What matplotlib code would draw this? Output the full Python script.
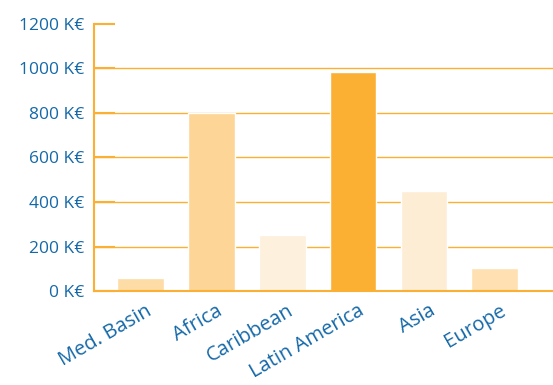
import matplotlib
matplotlib.use("Agg")
import matplotlib.pyplot as plt
import matplotlib.transforms as mtransforms

# data
regions = ["Med. Basin", "Africa", "Caribbean", "Latin America", "Asia", "Europe"]
amounts = [60, 800, 250, 982, 450, 105]
bar_colors = ["#FDDCA6", "#FDD596", "#FDF0DC", "#FBB034", "#FDEDD5", "#FEE0B2"]
yticks = [0, 200, 400, 600, 800, 1000, 1200]
ytick_labels = [str(v) + " K€" for v in yticks]

orange = "#FBB034"
blue = "#1468A8"

plt.rcParams["font.family"] = ["Open Sans", "DejaVu Sans"]

fig = plt.figure(figsize=(5.53, 3.85), dpi=100)
ax = fig.add_axes([0.170, 0.244, 0.830, 0.694])

x = list(range(len(regions)))
ax.bar(x, amounts, width=0.66, color=bar_colors, edgecolor="white", linewidth=1, zorder=2)

# horizontal grid lines (no line at top tick)
for v in yticks[1:-1]:
    ax.axhline(v, color=orange, linewidth=1, zorder=1)

ax.set_xlim(-0.655, 5.82)
ax.set_ylim(0, 1200)

for s in ["top", "right"]:
    ax.spines[s].set_visible(False)
ax.spines["left"].set_color(orange)
ax.spines["bottom"].set_color(orange)
ax.spines["left"].set_linewidth(1.5)
ax.spines["bottom"].set_linewidth(1.5)

ax.set_yticks(yticks)
ax.set_yticklabels(ytick_labels, color=blue, fontsize=12.5)
ax.tick_params(axis="y", direction="in", length=15, width=1.5, color=orange, pad=7)

ax.set_xticks(x)
ax.set_xticklabels(regions, color=blue, fontsize=14.5, rotation=30,
                   ha="right", rotation_mode="anchor")
ax.tick_params(axis="x", length=0, pad=7)
shift = mtransforms.ScaledTranslation(5 / 100, 0, fig.dpi_scale_trans)
for lbl in ax.get_xticklabels():
    lbl.set_transform(lbl.get_transform() + shift)

fig.savefig("out.png", dpi=100)
